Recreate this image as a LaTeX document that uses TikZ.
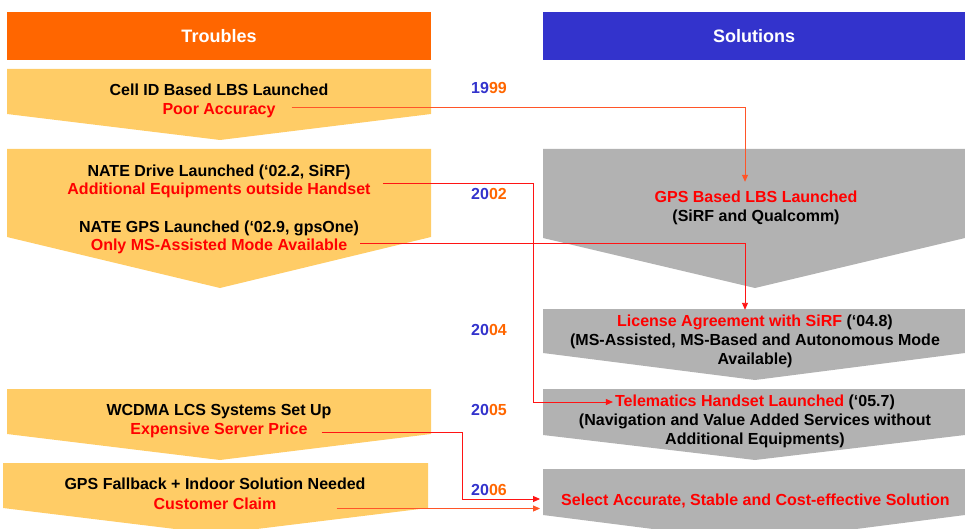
\documentclass[tikz,border=0pt]{standalone}
\usepackage{fontspec}
\setmainfont{Liberation Sans}
\usetikzlibrary{arrows.meta,calc}
\definecolor{yel}{RGB}{255,204,102}
\definecolor{gry}{RGB}{178,178,178}
\definecolor{hdor}{RGB}{255,102,0}
\definecolor{hdbl}{RGB}{51,51,204}
\definecolor{lnred}{RGB}{255,20,20}
\definecolor{lnor}{RGB}{255,85,40}
\definecolor{yrbl}{RGB}{51,51,204}
\definecolor{yror}{RGB}{255,102,0}
\begin{document}
\begin{tikzpicture}[x=1pt,y=-1pt,
  txt/.style={inner sep=0pt, anchor=base, text height=12pt, text depth=0pt,
    font=\fontsize{16}{19}\selectfont\bfseries},
  rtxt/.style={txt, text=red},
  yr/.style={inner sep=0pt, anchor=base west, font=\fontsize{16}{19}\selectfont\bfseries},
  hdr/.style={inner sep=0pt, text=white, minimum height=48pt,
    font=\fontsize{18}{22}\selectfont\bfseries},
  conn/.style={line width=0.9pt, -{Triangle[length=7pt,width=6pt]}},
]
\useasboundingbox (0,0) rectangle (965,529);
\clip (0,0) rectangle (965,529);

% headers
\node[hdr, fill=hdor, minimum width=424pt] (hT) at (219,36) {Troubles};
\node[hdr, fill=hdbl, minimum width=422pt] (hS) at (754,36) {Solutions};

% left chevrons
\fill[yel] (7,69) -- (431,69) -- (431,114) -- (220,140) -- (7,114) -- cycle;
\fill[yel] (7,149) -- (431,149) -- (431,237) -- (220,288) -- (7,237) -- cycle;
\fill[yel] (7,389) -- (431,389) -- (431,434) -- (220,460) -- (7,434) -- cycle;
\fill[yel] (3,463) -- (428,463) -- (428,508) -- (216,534) -- (3,508) -- cycle;

% right chevrons
\fill[gry] (543,149) -- (965,149) -- (965,238) -- (755,288) -- (543,238) -- cycle;
\fill[gry] (543,309) -- (965,309) -- (965,353) -- (755,380) -- (543,353) -- cycle;
\fill[gry] (543,389) -- (965,389) -- (965,435) -- (755,460) -- (543,435) -- cycle;
\fill[gry] (543,469) -- (965,469) -- (965,515) -- (755,542) -- (543,515) -- cycle;

% left texts
\node[txt] (cell) at (219,96) {Cell ID Based LBS Launched};
\node[rtxt] (poor) at (219,114.5) {Poor Accuracy};
\node[txt] (drive) at (219,177) {NATE Drive Launched (‘02.2, SiRF)};
\node[rtxt] (addl) at (219,195) {Additional Equipments outside Handset};
\node[txt] (ngps) at (219,233) {NATE GPS Launched (‘02.9, gpsOne)};
\node[rtxt] (onlyms) at (219,251) {Only MS-Assisted Mode Available};
\node[txt] (wcdma) at (219,415) {WCDMA LCS Systems Set Up};
\node[rtxt] (exps) at (219,434.5) {Expensive Server Price};
\node[txt] (fallb) at (215,489.5) {GPS Fallback + Indoor Solution Needed};
\node[rtxt] (cust) at (215,509.5) {Customer Claim};

% right texts
\node[rtxt] (gps) at (756,203) {GPS Based LBS Launched};
\node[txt] (sq) at (756,221.5) {(SiRF and Qualcomm)};
\node[txt] (lic) at (755,326.5) {\textcolor{red}{License Agreement with SiRF} (‘04.8)};
\node[txt] (lic2) at (755,345) {(MS-Assisted, MS-Based and Autonomous Mode};
\node[txt] (lic3) at (755,364) {Available)};
\node[txt] (tele) at (755,406) {\textcolor{red}{Telematics Handset Launched} (‘05.7)};
\node[txt] (tele2) at (755,425) {(Navigation and Value Added Services without};
\node[txt] (tele3) at (755,444) {Additional Equipments)};
\node[rtxt] (sel) at (755.5,505) {Select Accurate, Stable and Cost-effective Solution};

% years
\node[yr] (y1999) at (471,93.5) {\textcolor{yrbl}{19}\textcolor{yror}{99}};
\node[yr] (y2002) at (471,200) {\textcolor{yrbl}{20}\textcolor{yror}{02}};
\node[yr] (y2004) at (471,335) {\textcolor{yrbl}{20}\textcolor{yror}{04}};
\node[yr] (y2005) at (471,415) {\textcolor{yrbl}{20}\textcolor{yror}{05}};
\node[yr] (y2006) at (471,495) {\textcolor{yrbl}{20}\textcolor{yror}{06}};

% connector points
\coordinate (s1) at ([xshift=16pt,yshift=7pt]poor.base east);
\coordinate (e1) at ([xshift=-11pt,yshift=9pt]gps.north);
\coordinate (s2) at ([xshift=12pt,yshift=12pt]addl.base east);
\coordinate (e2) at ([xshift=-2pt,yshift=4pt]tele.base west);
\coordinate (b2) at (533,0);
\coordinate (s3) at ([xshift=13pt,yshift=8pt]onlyms.base east);
\coordinate (e3) at ([xshift=-10pt,yshift=4.5pt]lic.north);
\coordinate (s4) at ([xshift=14pt,yshift=2pt]exps.base east);
\coordinate (e4) at ([xshift=-21pt,yshift=6pt]sel.base west);
\coordinate (b4) at (462,0);
\coordinate (s5) at ([xshift=60pt,yshift=1pt]cust.base east);
\coordinate (e5) at ([xshift=-21pt,yshift=-3pt]sel.base west);

% connectors
\draw[conn, lnor] (s1) -| (e1);
\draw[conn, lnred] (s2) -| (b2 |- e2) -- (e2);
\draw[conn, lnred] (s3) -| (e3);
\draw[conn, lnred] (s4) -| (b4 |- e4) -- (e4);
\draw[conn, lnor] (s5) -- (e5 |- s5);
\end{tikzpicture}
\end{document}
